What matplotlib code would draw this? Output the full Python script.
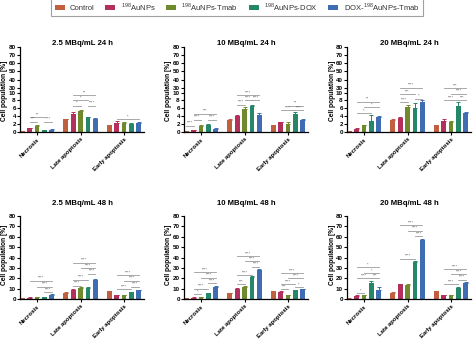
import numpy as np
import matplotlib
matplotlib.use("Agg")
import matplotlib.pyplot as plt
from matplotlib.patches import Patch

plt.rcParams['font.family'] = ['Liberation Sans', 'DejaVu Sans']
plt.rcParams['mathtext.fontset'] = 'custom'
plt.rcParams['mathtext.rm'] = 'Liberation Sans'
plt.rcParams['mathtext.bf'] = 'Liberation Sans:bold'

# groups and treatments
categories = ['Necrosis', 'Late apoptosis', 'Early apoptosis']
treatments = ['Control', r'$^{198}$AuNPs', r'$^{198}$AuNPs-Tmab',
              r'$^{198}$AuNPs-DOX', r'DOX-$^{198}$AuNPs-Tmab']
colors = ['#c0603f', '#b3305c', '#6e8a2c', '#24876a', '#3f6db3']

titles = ['2.5 MBq/mL 24 h', '10 MBq/mL 24 h', '20 MBq/mL 24 h',
          '2.5 MBq/mL 48 h', '10 MBq/mL 48 h', '20 MBq/mL 48 h']

# mean values, rows = category, cols = treatment
means_25_24 = [[0.3, 0.9, 1.5, 0.4, 0.6],
               [3.2, 4.5, 5.3, 3.7, 3.3],
               [1.8, 2.4, 2.4, 2.1, 2.4]]
means_10_24 = [[0.3, 0.5, 1.5, 1.8, 0.8],
               [3.1, 4.0, 5.8, 6.6, 4.2],
               [1.8, 2.5, 2.0, 4.6, 3.0]]
means_20_24 = [[0.3, 0.8, 1.8, 2.7, 3.7],
               [3.1, 3.6, 6.3, 6.2, 7.6],
               [1.8, 2.9, 2.5, 6.7, 4.9]]
means_25_48 = [[0.5, 1.2, 1.8, 1.5, 4.0],
               [5.8, 9.0, 10.5, 11.0, 18.0],
               [7.5, 3.5, 3.5, 6.3, 8.2]]
means_10_48 = [[0.5, 1.2, 2.0, 5.5, 11.5],
               [5.8, 10.0, 12.0, 21.0, 28.0],
               [7.3, 6.8, 3.8, 8.2, 9.3]]
means_20_48 = [[0.3, 3.3, 3.8, 15.5, 8.5],
               [5.8, 14.0, 13.5, 36.0, 56.5],
               [7.3, 3.5, 3.5, 10.5, 15.5]]

err_25_24 = [[0.05, 0.1, 0.15, 0.05, 0.1],
             [0.1, 0.5, 0.4, 0.15, 0.15],
             [0.1, 0.3, 0.2, 0.1, 0.2]]
err_10_24 = [[0.05, 0.1, 0.3, 0.15, 0.1],
             [0.1, 0.4, 0.5, 0.3, 0.5],
             [0.1, 0.15, 0.6, 0.4, 0.4]]
err_20_24 = [[0.05, 0.2, 0.1, 1.6, 0.4],
             [0.1, 0.2, 0.5, 1.1, 0.4],
             [0.1, 0.3, 0.2, 1.0, 0.1]]
err_25_48 = [[0.2, 0.3, 0.3, 0.3, 0.6],
             [0.5, 0.6, 0.8, 0.5, 0.8],
             [0.4, 0.4, 0.4, 0.5, 0.6]]
err_10_48 = [[0.2, 0.3, 0.4, 0.6, 0.9],
             [0.4, 0.6, 1.0, 0.8, 1.2],
             [0.4, 0.5, 0.5, 0.5, 0.7]]
err_20_48 = [[0.2, 0.5, 0.4, 2.0, 3.0],
             [0.5, 0.6, 0.6, 1.0, 1.5],
             [0.4, 0.4, 0.4, 1.5, 1.2]]

# significance brackets: (group, bar a, bar b, height, label)
sig_25_24 = [(0, 1, 3, 3.8, '**'), (0, 1, 2, 2.6, '***'), (0, 3, 4, 2.6, '****'),
             (1, 1, 4, 9.4, '**'), (1, 1, 3, 8.1, '*'), (1, 1, 2, 6.7, '*'),
             (1, 3, 4, 6.7, '****'), (2, 1, 4, 3.2, '*')]
sig_10_24 = [(0, 1, 4, 4.6, '***'), (0, 1, 2, 3.1, '****'), (0, 3, 4, 3.1, '****'),
             (0, 0, 1, 1.6, '****'),
             (1, 1, 4, 9.4, '****'), (1, 2, 3, 8.1, '****'), (1, 3, 4, 8.1, '****'),
             (1, 1, 2, 6.9, '****'),
             (2, 2, 4, 6.7, '**'), (2, 1, 3, 5.6, '****'), (2, 3, 4, 5.6, '****')]
sig_20_24 = [(0, 1, 4, 7.7, '**'), (0, 2, 4, 6.3, '*'), (0, 1, 3, 4.7, '*'),
             (1, 1, 4, 29.0, '****'), (1, 1, 3, 9.6, '***'), (1, 1, 2, 7.6, '****'),
             (1, 3, 4, 8.4, '*'),
             (2, 1, 4, 28.0, '***'), (2, 2, 4, 9.7, '****'), (2, 1, 3, 8.0, '****'),
             (2, 3, 4, 8.0, '***')]
sig_25_48 = [(0, 1, 4, 17.5, '****'), (0, 2, 4, 12.0, '****'), (0, 3, 4, 6.7, '****'),
             (1, 1, 4, 35.0, '****'), (1, 2, 4, 29.5, '****'), (1, 3, 4, 24.5, '****'),
             (1, 1, 3, 18.5, '****'), (1, 1, 2, 12.7, '****'),
             (2, 1, 4, 23.0, '****'), (2, 2, 4, 17.5, '****'), (2, 3, 4, 12.0, '****'),
             (2, 1, 3, 9.5, '****')]
sig_10_48 = [(0, 1, 4, 26.0, '****'), (0, 2, 4, 20.5, '****'), (0, 3, 4, 15.0, '****'),
             (0, 1, 3, 10.0, '****'), (0, 1, 2, 4.8, '*'),
             (1, 1, 4, 41.0, '****'), (1, 2, 4, 36.5, '****'), (1, 3, 4, 31.0, '****'),
             (1, 1, 3, 23.0, '****'), (1, 1, 2, 14.5, '***'),
             (2, 1, 4, 25.0, '****'), (2, 2, 4, 20.0, '****'), (2, 1, 3, 14.5, '****'),
             (2, 3, 4, 11.5, '*'), (2, 1, 2, 9.5, '***')]
sig_20_48 = [(0, 1, 4, 30.5, '*'), (0, 2, 4, 25.0, '*'), (0, 1, 3, 20.0, '****'),
             (0, 3, 4, 20.0, '***'), (0, 1, 2, 5.7, '*'),
             (1, 1, 4, 71.0, '****'), (1, 2, 4, 66.0, '****'), (1, 3, 4, 60.5, '****'),
             (1, 1, 3, 39.0, '****'),
             (2, 1, 4, 29.0, '****'), (2, 2, 4, 24.0, '****'), (2, 3, 4, 18.5, '****'),
             (2, 1, 3, 14.5, '****')]

panels = [(means_25_24, err_25_24, sig_25_24), (means_10_24, err_10_24, sig_10_24),
          (means_20_24, err_20_24, sig_20_24), (means_25_48, err_25_48, sig_25_48),
          (means_10_48, err_10_48, sig_10_48), (means_20_48, err_20_48, sig_20_48)]

top_ticks = [0, 2, 4, 6, 8, 10, 30, 40, 50, 60, 70, 80]
bottom_ticks = [0, 10, 20, 30, 40, 50, 60, 70, 80]

GROUP_STEP = 5.9
BAR_W = 0.64


# segmented axis like GraphPad: 0-10 stretched, 10-30 squeezed, 30-80 compressed
def seg_fwd(y):
    y = np.asarray(y, dtype=float)
    return np.where(y <= 10, y,
                    np.where(y <= 30, 10 + (y - 10) * 0.0625, 11.25 + (y - 30) * 0.206))


def seg_inv(t):
    t = np.asarray(t, dtype=float)
    return np.where(t <= 10, t,
                    np.where(t <= 11.25, 10 + (t - 10) / 0.0625, 30 + (t - 11.25) / 0.206))


def bar_x(g, i):
    return g * GROUP_STEP + i


fig = plt.figure(figsize=(4.74, 3.42), dpi=100)

lefts = [20 / 474, 184 / 474, 347 / 474]
width = 124 / 474
rows = [((342 - 132) / 342, 85 / 342), ((342 - 299) / 342, 83 / 342)]

for k, (means, errs, sigs) in enumerate(panels):
    r, c = divmod(k, 3)
    bottom, height = rows[r]
    ax = fig.add_axes([lefts[c], bottom, width, height])
    means = np.array(means)
    errs = np.array(errs)

    if r == 0:
        ax.set_yscale('function', functions=(seg_fwd, seg_inv))
        ax.set_yticks(top_ticks)
    else:
        ax.set_yticks(bottom_ticks)
    ax.set_ylim(0, 80)

    for i in range(5):
        xs = [bar_x(g, i) for g in range(3)]
        ax.bar(xs, means[:, i], width=BAR_W, color=colors[i], zorder=2)
        ax.errorbar(xs, means[:, i], yerr=[np.zeros(3), errs[:, i]], fmt='none',
                    ecolor=colors[i], elinewidth=0.7, capsize=1.3, capthick=0.7, zorder=2)

    for g, a, b, y, lab in sigs:
        xa, xb = bar_x(g, a), bar_x(g, b)
        ax.plot([xa, xb], [y, y], color='#9a9a9a', lw=0.6, zorder=3)
        ax.annotate(lab, ((xa + xb) / 2, y), xytext=(0, 0.5), textcoords='offset points',
                    ha='center', va='bottom', fontsize=2.8, color='#555555')

    ax.set_xlim(-0.32, 16.5)
    ax.set_xticks([bar_x(g, 2) for g in range(3)])
    ax.set_xticklabels(categories, rotation=45, ha='right', rotation_mode='anchor',
                       fontsize=4.3, fontweight='bold')
    ax.tick_params(axis='y', labelsize=4.5, length=2, width=0.8, pad=1)
    ax.tick_params(axis='x', length=2, width=0.8, pad=1.5)
    for lab in ax.get_yticklabels():
        lab.set_fontweight('bold')
    ax.spines['top'].set_visible(False)
    ax.spines['right'].set_visible(False)
    ax.spines['left'].set_linewidth(0.9)
    ax.spines['bottom'].set_linewidth(0.9)
    ax.set_title(titles[k], fontsize=5.6, fontweight='bold', pad=1.5 if r == 0 else 8.0)

    ylab_y = 91 if r == 0 else 255
    fig.text(lefts[c] - 15 / 474, 1 - ylab_y / 342, 'Cell population [%]', rotation=90,
             ha='center', va='center', fontsize=4.8, fontweight='bold')

handles = [Patch(facecolor=col, edgecolor='none') for col in colors]
leg = fig.legend(handles, treatments, loc='lower center', bbox_to_anchor=(0.5, 1 - 16 / 342),
                 ncol=5, fontsize=5.5, frameon=True, fancybox=False, handlelength=1.3,
                 handleheight=0.7, columnspacing=1.4, handletextpad=0.7, borderpad=0.45,
                 borderaxespad=0)
leg.get_frame().set_edgecolor('#888888')
leg.get_frame().set_linewidth(0.8)
for t in leg.get_texts():
    t.set_color('#333333')

fig.savefig('out.png', dpi=100)
